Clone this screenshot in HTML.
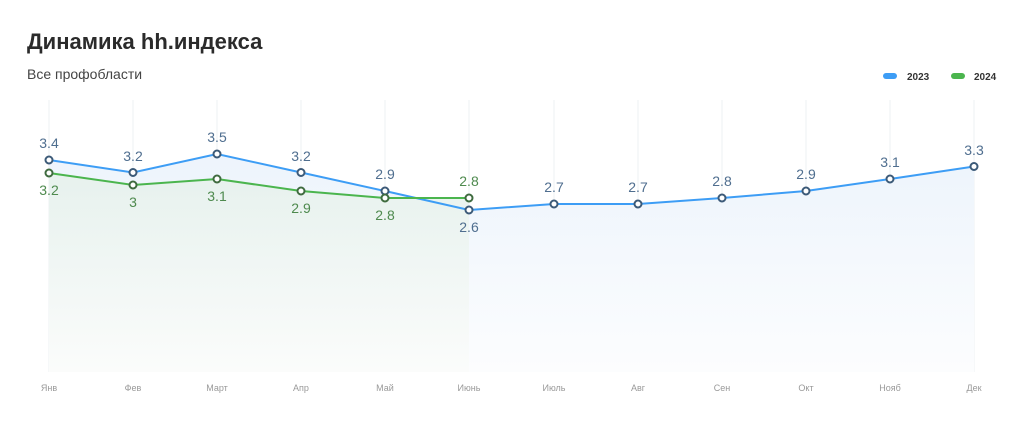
<!DOCTYPE html><html><head><meta charset="utf-8"><style>body{margin:0;background:#fff;width:1024px;height:434px;overflow:hidden;font-family:"Liberation Sans",sans-serif}</style></head><body>
<svg width="1024" height="434" xmlns="http://www.w3.org/2000/svg" font-family="Liberation Sans, sans-serif">
<defs>
<linearGradient id="gb" x1="0" y1="0" x2="0" y2="1"><stop offset="0" stop-color="#edf4fc"/><stop offset="1" stop-color="#fcfdfe"/></linearGradient>
<linearGradient id="gg" x1="0" y1="0" x2="0" y2="1"><stop offset="0" stop-color="#e6f1ec"/><stop offset="1" stop-color="#fbfcfb"/></linearGradient>
</defs>
<text x="27" y="49" font-size="22" font-weight="bold" fill="#2b2b2b">Динамика hh.индекса</text>
<text x="27" y="79" font-size="14" fill="#444">Все профобласти</text>
<rect x="883" y="73" width="14" height="6" rx="3" fill="#3d9df5"/>
<text x="907" y="80" font-size="10" font-weight="bold" fill="#333">2023</text>
<rect x="951" y="73" width="14" height="6" rx="3" fill="#4bb54e"/>
<text x="974" y="80" font-size="10" font-weight="bold" fill="#333">2024</text>
<g stroke="#eef0f3" stroke-width="1">
<line x1="49" y1="100" x2="49" y2="372"/><line x1="133" y1="100" x2="133" y2="372"/><line x1="217" y1="100" x2="217" y2="372"/><line x1="301" y1="100" x2="301" y2="372"/><line x1="385" y1="100" x2="385" y2="372"/><line x1="469" y1="100" x2="469" y2="372"/><line x1="554" y1="100" x2="554" y2="372"/><line x1="638" y1="100" x2="638" y2="372"/><line x1="722" y1="100" x2="722" y2="372"/><line x1="806" y1="100" x2="806" y2="372"/><line x1="890" y1="100" x2="890" y2="372"/><line x1="974" y1="100" x2="974" y2="372"/>
</g>
<polygon fill="url(#gb)" points="49,160 133,172.5 217,154 301,172.5 385,191 469,210 554,204 638,204 722,198 806,191 890,179 974,166.5 974,372 49,372"/>
<polygon fill="url(#gg)" opacity="0.9" points="49,173 133,185 217,179 301,191 385,198 469,198 469,372 49,372"/>
<polyline fill="none" stroke="#3d9df5" stroke-width="2" points="49,160 133,172.5 217,154 301,172.5 385,191 469,210 554,204 638,204 722,198 806,191 890,179 974,166.5"/>
<polyline fill="none" stroke="#4bb54e" stroke-width="2" points="49,173 133,185 217,179 301,191 385,198 469,198"/>
<g fill="#fff" stroke="#3c5a78" stroke-width="2">
<circle cx="49" cy="160" r="3.5"/><circle cx="133" cy="172.5" r="3.5"/><circle cx="217" cy="154" r="3.5"/><circle cx="301" cy="172.5" r="3.5"/><circle cx="385" cy="191" r="3.5"/><circle cx="469" cy="210" r="3.5"/><circle cx="554" cy="204" r="3.5"/><circle cx="638" cy="204" r="3.5"/><circle cx="722" cy="198" r="3.5"/><circle cx="806" cy="191" r="3.5"/><circle cx="890" cy="179" r="3.5"/><circle cx="974" cy="166.5" r="3.5"/>
</g>
<g fill="#fff" stroke="#3f6b3f" stroke-width="2">
<circle cx="49" cy="173" r="3.5"/><circle cx="133" cy="185" r="3.5"/><circle cx="217" cy="179" r="3.5"/><circle cx="301" cy="191" r="3.5"/><circle cx="385" cy="198" r="3.5"/><circle cx="469" cy="198" r="3.5"/>
</g>
<g font-size="14" fill="#4f6e8f" text-anchor="middle">
<text x="49" y="148">3.4</text><text x="133" y="161">3.2</text><text x="217" y="142">3.5</text><text x="301" y="161">3.2</text><text x="385" y="179">2.9</text><text x="469" y="232">2.6</text><text x="554" y="192">2.7</text><text x="638" y="192">2.7</text><text x="722" y="186">2.8</text><text x="806" y="179">2.9</text><text x="890" y="167">3.1</text><text x="974" y="155">3.3</text>
</g>
<g font-size="14" fill="#4e8a4e" text-anchor="middle">
<text x="49" y="195">3.2</text><text x="133" y="207">3</text><text x="217" y="201">3.1</text><text x="301" y="213">2.9</text><text x="385" y="220">2.8</text><text x="469" y="186">2.8</text>
</g>
<g font-size="9" fill="#999" text-anchor="middle">
<text x="49" y="391">Янв</text><text x="133" y="391">Фев</text><text x="217" y="391">Март</text><text x="301" y="391">Апр</text><text x="385" y="391">Май</text><text x="469" y="391">Июнь</text><text x="554" y="391">Июль</text><text x="638" y="391">Авг</text><text x="722" y="391">Сен</text><text x="806" y="391">Окт</text><text x="890" y="391">Нояб</text><text x="974" y="391">Дек</text>
</g>
</svg>
</body></html>
